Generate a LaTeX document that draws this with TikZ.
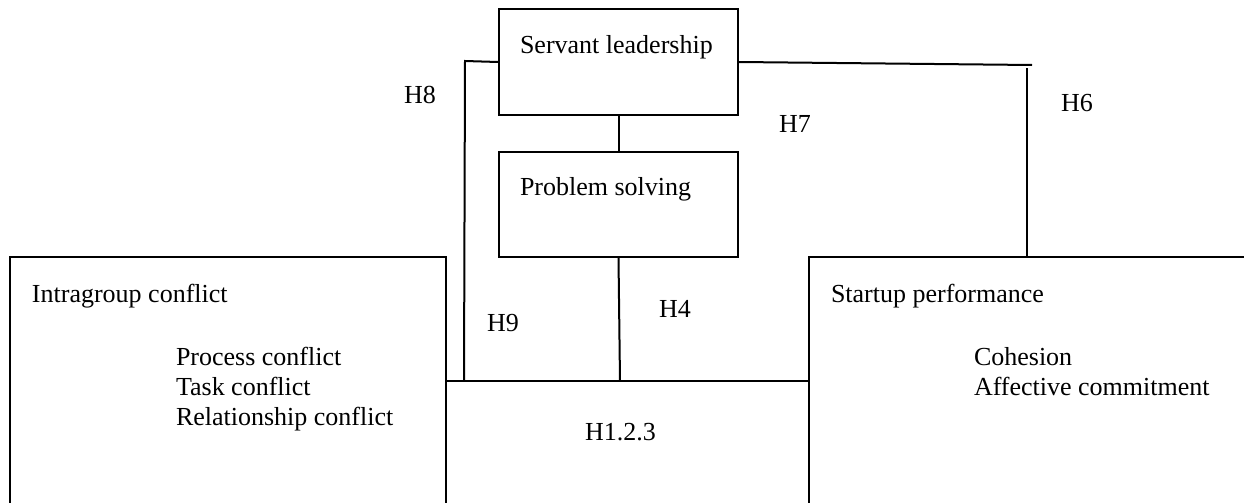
\documentclass[tikz,border=0pt]{standalone}
\usepackage{fontspec}
\setmainfont{Liberation Serif}
\usepackage{tikz}

\begin{document}
\begin{tikzpicture}[x=0.5pt, y=-0.5pt, line width=1pt,
  every node/.style={font=\fontsize{13}{14.8}\selectfont},
  box/.style={draw, rectangle, inner sep=0pt},
  txt/.style={anchor=base west, inner sep=0pt}]
  \useasboundingbox (0,0) rectangle (1244,503);
  \clip (0,0) rectangle (1244,503);
  % boxes
  \node[box, minimum width=119.5pt, minimum height=53pt] (sl) at (618.5,62) {};
  \node[box, minimum width=119.5pt, minimum height=52.5pt] (ps) at (618.5,204.5) {};
  \node[box, minimum width=218pt, minimum height=136.5pt] (ic) at (228,393.5) {};
  \node[box, minimum width=230.5pt, minimum height=136.5pt] (sp) at (1039.5,393.5) {};
  % box texts
  \node[txt] (slt) at (519,54) {Servant leadership};
  \node[txt] (pst) at (519,195) {Problem solving};
  \node[txt] (ict) at (31,302) {Intragroup conflict};
  \node[txt] (ic1) at (175,365) {Process conflict};
  \node[txt] (ic2) at (175,395) {Task conflict};
  \node[txt] (ic3) at (175,425) {Relationship conflict};
  \node[txt] (spt) at (830,302) {Startup performance};
  \node[txt] (sp1) at (973,365) {Cohesion};
  \node[txt] (sp2) at (973,395) {Affective commitment};
  % connectors
  \coordinate (mid) at (0,381);
  \coordinate (h8top) at (465,61);
  \coordinate (h8bot) at (464,381);
  \coordinate (h4bot) at (620,381);
  \coordinate (h6end) at (1032,65);
  \coordinate (h6top) at (1027,68);
  \draw (ic.east |- mid) -- (sp.west |- mid);
  \draw (sl.south) -- (ps.north);
  \draw (ps.south) -- (h4bot);
  \draw (sl.west) -- (h8top) -- (h8bot);
  \draw (sl.east) -- (h6end);
  \draw (h6top) -- (sp.north -| h6top);
  % hypothesis labels
  \node[txt] (h8) at (403,103) {H8};
  \node[txt] (h7) at (778,132) {H7};
  \node[txt] (h6) at (1060,111) {H6};
  \node[txt] (h9) at (486,331) {H9};
  \node[txt] (h4) at (658,317) {H4};
  \node[txt] (h123) at (584,440) {H1.2.3};
\end{tikzpicture}
\end{document}
